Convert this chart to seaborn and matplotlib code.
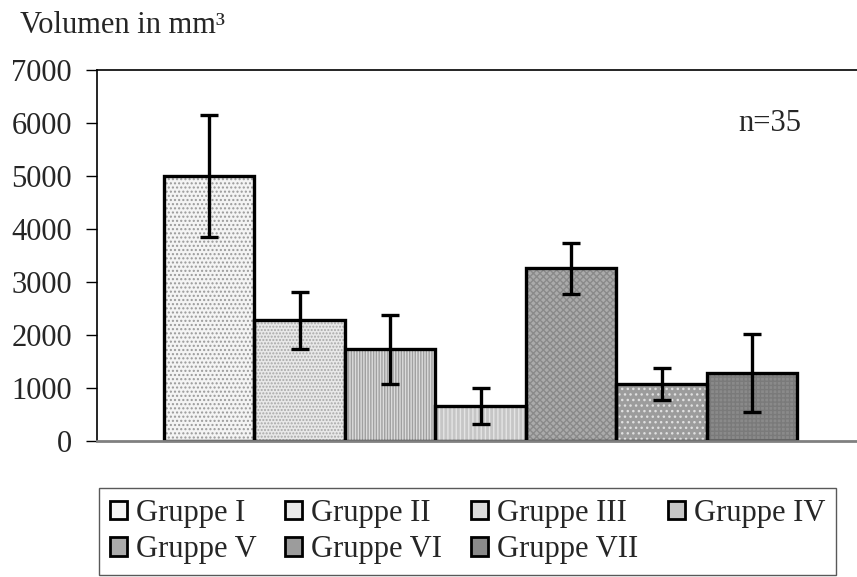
import numpy as np
import pandas as pd
import seaborn as sns
import matplotlib.pyplot as plt
from matplotlib.patches import Patch

# data
groups = ['Gruppe I', 'Gruppe II', 'Gruppe III', 'Gruppe IV',
          'Gruppe V', 'Gruppe VI', 'Gruppe VII']
volume = [5000, 2270, 1720, 650, 3250, 1065, 1270]
volume_err = [1150, 545, 650, 335, 480, 305, 740]
y_ticks = [0, 1000, 2000, 3000, 4000, 5000, 6000, 7000]

face_colors = ['#f4f4f4', '#e8e8e8', '#dcdcdc', '#c6c6c6', '#ababab', '#9c9c9c', '#8a8a8a']
hatch_colors = ['#9a9a9a', '#a8a8a8', '#a0a0a0', '#e4e4e4', '#8a8a8a', '#e0e0e0', '#7a7a7a']
hatches = ['....', '.....', '||||||', '||||', 'xxxxx', '...', '++++']

df = pd.DataFrame({'group': groups, 'volume': volume, 'err': volume_err})

sns.set_style('white')
plt.rcParams['font.family'] = ['Liberation Serif', 'DejaVu Serif']

fig = plt.figure(figsize=(8.57, 5.77), dpi=100)
ax = fig.add_axes([97 / 857, 1 - 440.5 / 577, (857 - 97) / 857, (440.5 - 70) / 577])

# fill layer with hatch pattern
sns.barplot(data=df, x='group', y='volume', hue='group', palette=face_colors,
            width=1.0, legend=False, ax=ax, linewidth=0, errorbar=None)
for patch, hc, h in zip(ax.patches, hatch_colors, hatches):
    patch.set_edgecolor(hc)
    patch.set_hatch(h)
    patch.set_linewidth(0)

# outline layer
sns.barplot(data=df, x='group', y='volume', width=1.0, fill=False,
            color='black', linewidth=2.4, ax=ax, errorbar=None)

ax.errorbar(x=np.arange(len(groups)), y=df['volume'], yerr=df['err'],
            fmt='none', ecolor='black', elinewidth=2.4, capsize=6.5, capthick=2.4)

ax.set_xlim(-1.24, 7.16)
ax.set_ylim(0, 7000)
ax.set_yticks(y_ticks)
ax.set_yticklabels([str(t) for t in y_ticks], fontsize=22)
ax.set_xticks([])
ax.set_xlabel('')
ax.set_ylabel('')
ax.tick_params(axis='y', direction='out', length=8, width=1, color='black', pad=10, left=True)

for side in ['left', 'top']:
    ax.spines[side].set_color('black')
    ax.spines[side].set_linewidth(1.2)
ax.spines['bottom'].set_color('#808080')
ax.spines['bottom'].set_linewidth(2)
ax.spines['right'].set_visible(False)

ax.text(0.885, 0.855, 'n=35', transform=ax.transAxes, fontsize=22, va='center', ha='center')
fig.text(20 / 857, 1 - 33 / 577, 'Volumen in mm³', fontsize=22, va='baseline', ha='left')

# legend filled row by row (matplotlib fills columns first)
order = [0, 4, 1, 5, 2, 6, 3]
handles = [Patch(facecolor=face_colors[i], edgecolor='black', linewidth=2) for i in order]
labels = [groups[i] for i in order]
leg = fig.legend(handles, labels, loc='upper left', bbox_to_anchor=(99 / 857, 1 - 488 / 577),
                 ncol=4, fontsize=22, frameon=True, fancybox=False, edgecolor='#303030',
                 handlelength=0.55, handleheight=0.55, handletextpad=0.3,
                 columnspacing=0.95, labelspacing=0.25, borderpad=0.35, borderaxespad=0)
leg.get_frame().set_linewidth(1)

fig.savefig('out.png', dpi=100)
